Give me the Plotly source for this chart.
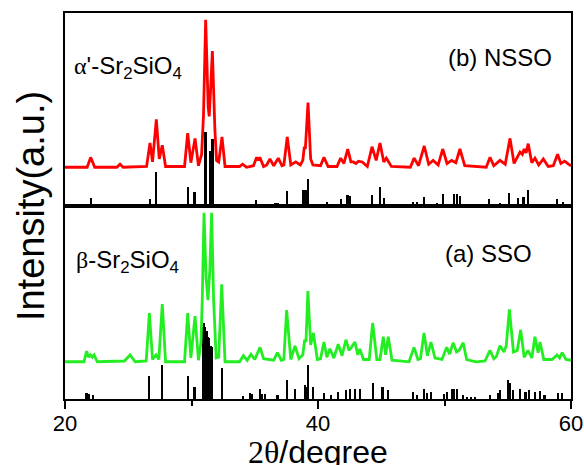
import plotly.graph_objects as go
from plotly.subplots import make_subplots

# ---- measured XRD pattern of NSSO (2theta, intensity a.u.) ----
nsso_pattern = [
    (20.0, 51), (21.75, 51), (22.03, 64), (22.35, 51), (24.1, 51), (24.35, 55), (24.6, 51),
    (26.45, 52), (26.72, 83), (26.92, 58), (27.22, 114), (27.45, 62), (27.69, 80), (27.95, 52),
    (29.45, 52), (29.70, 96), (29.95, 57), (30.28, 89), (30.55, 53), (30.8, 68), (30.95, 120),
    (31.12, 245), (31.32, 130), (31.4, 118), (31.5, 150), (31.65, 204), (31.85, 100), (31.98, 60),
    (32.15, 58), (32.41, 91), (32.65, 52), (33.8, 52), (34.05, 55), (34.35, 51), (34.9, 53),
    (35.15, 64), (35.28, 60), (35.4, 64), (35.7, 52), (35.95, 54), (36.2, 62), (36.5, 53),
    (36.86, 63), (37.15, 53), (37.3, 54), (37.57, 91), (37.85, 54), (38.24, 58), (38.6, 54),
    (38.8, 60), (38.92, 78), (39.0, 75), (39.21, 136), (39.42, 62), (39.6, 54), (40.2, 53),
    (40.47, 64), (40.8, 52), (41.5, 52), (41.79, 63), (42.05, 56), (42.35, 75), (42.6, 58),
    (42.8, 58), (43.0, 56), (43.2, 59), (43.5, 58), (43.9, 52), (44.27, 78), (44.6, 60),
    (44.9, 83), (45.2, 58), (45.4, 63), (45.8, 52), (47.3, 51), (47.6, 63), (47.95, 53),
    (48.4, 79), (48.75, 55), (49.1, 60), (49.5, 54), (49.86, 75), (50.2, 56), (50.57, 60),
    (50.9, 57), (51.22, 75), (51.6, 53), (53.3, 51), (53.6, 64), (53.9, 53), (54.39, 60),
    (54.8, 55), (55.18, 89), (55.5, 56), (55.97, 71), (56.15, 68), (56.3, 75), (56.45, 70),
    (56.62, 82), (56.9, 57), (57.15, 63), (57.45, 54), (57.81, 62), (58.2, 52), (58.6, 53),
    (58.94, 68), (59.2, 56), (59.5, 59), (59.8, 55), (60.0, 53),
]

# ---- measured XRD pattern of SSO ----
sso_pattern = [
    (20.0, 49), (21.5, 49), (21.71, 63), (21.85, 55), (22.0, 58), (22.15, 55), (22.3, 58),
    (22.55, 49), (24.7, 50), (25.14, 58), (25.55, 49), (26.42, 50), (26.67, 113), (26.92, 52),
    (27.2, 58), (27.42, 52), (27.69, 125), (27.95, 49), (29.45, 49), (29.70, 113), (29.95, 54),
    (30.28, 109), (30.55, 51), (30.75, 75), (30.85, 130), (30.99, 245), (31.15, 160), (31.3, 130),
    (31.45, 170), (31.59, 245), (31.75, 130), (31.95, 54), (32.15, 55), (32.39, 151), (32.65, 49),
    (33.8, 49), (34.1, 57), (34.4, 51), (34.7, 59), (35.0, 52), (35.42, 68), (35.7, 53),
    (36.5, 51), (36.79, 61), (37.1, 51), (37.3, 52), (37.52, 117), (37.85, 52), (38.18, 70),
    (38.5, 53), (38.8, 58), (38.95, 78), (39.05, 75), (39.2, 142), (39.42, 71), (39.63, 87),
    (39.95, 52), (40.2, 53), (40.47, 75), (40.7, 55), (40.94, 66), (41.25, 54), (41.6, 72),
    (41.9, 57), (42.21, 78), (42.45, 64), (42.6, 67), (42.92, 75), (43.15, 58), (43.3, 66),
    (43.6, 52), (44.05, 52), (44.32, 100), (44.65, 52), (44.9, 52), (45.16, 82), (45.35, 58),
    (45.55, 82), (45.85, 51), (47.2, 49), (47.59, 68), (47.9, 52), (48.1, 53), (48.38, 87),
    (48.65, 57), (48.93, 75), (49.25, 54), (49.8, 52), (50.17, 68), (50.4, 59), (50.69, 74),
    (50.95, 62), (51.15, 64), (51.48, 74), (51.75, 52), (52.5, 49), (53.2, 50), (53.6, 64),
    (53.9, 53), (54.1, 56), (54.39, 70), (54.7, 62), (54.88, 70), (55.13, 118), (55.45, 62),
    (55.75, 64), (56.02, 91), (56.3, 55), (56.6, 64), (56.9, 54), (57.15, 82), (57.4, 61),
    (57.55, 75), (57.85, 52), (58.5, 52), (58.9, 58), (59.1, 54), (59.3, 61), (59.6, 52),
    (60.0, 51),
]

# ---- standard reference lines (2theta, relative intensity %) ----
alpha_ref_lines = [
    (22.03, 11), (26.72, 9), (27.2, 45), (29.70, 25), (30.24, 18), (31.08, 97), (31.15, 97),
    (31.47, 72), (31.55, 72), (31.65, 88), (31.72, 88), (35.07, 8), (36.6, 4), (36.8, 4),
    (37.52, 20), (38.84, 21), (38.95, 21), (39.1, 21), (39.24, 36), (40.74, 5), (41.79, 9),
    (42.27, 14), (42.4, 14), (42.53, 13), (44.24, 14), (44.9, 25), (45.2, 11), (45.5, 3),
    (47.53, 5), (47.85, 5), (48.4, 12), (48.95, 3), (49.4, 4), (49.86, 16), (50.77, 16),
    (50.96, 16), (51.22, 13), (51.7, 3), (52.7, 3), (53.54, 9), (54.4, 4), (55.13, 17),
    (55.84, 11), (56.2, 12), (56.3, 12), (56.63, 21), (57.9, 3), (58.2, 3), (58.5, 3),
    (58.87, 9), (59.4, 5),
]
beta_ref_lines = [
    (21.7, 8), (21.9, 7), (22.2, 5), (26.67, 30), (27.69, 45), (29.70, 30), (30.24, 16),
    (30.9, 95), (31.0, 100), (31.1, 95), (31.2, 90), (31.3, 82), (31.4, 80), (31.55, 70),
    (31.6, 68), (32.39, 41), (34.05, 4), (34.6, 8), (34.8, 7), (35.42, 13), (35.6, 7),
    (35.8, 7), (36.8, 5), (37.52, 25), (38.18, 13), (38.95, 18), (39.1, 16), (39.23, 45),
    (39.63, 16), (40.5, 8), (41.0, 5), (41.6, 9), (42.2, 12), (42.5, 13), (42.9, 13),
    (43.3, 13), (44.32, 21), (45.1, 16), (45.55, 12), (47.5, 9), (47.8, 5), (48.35, 13),
    (48.6, 8), (48.9, 9), (49.95, 7), (50.17, 9), (50.6, 13), (50.75, 13), (51.0, 13),
    (51.45, 5), (51.8, 3), (52.1, 3), (52.4, 3), (53.6, 5), (54.2, 8), (54.39, 12),
    (55.05, 25), (55.15, 21), (55.4, 12), (56.0, 13), (56.4, 9), (56.66, 12), (57.15, 9),
    (57.55, 11), (57.9, 5), (59.0, 8), (59.3, 8),
]

x_ticks = [20, 40, 60]
x_minor_ticks = [30, 50]

FONT = "Liberation Sans"
GREEK = "Liberation Serif"

fig = make_subplots(rows=2, cols=1, shared_xaxes=True, vertical_spacing=0)


def unzip(pairs):
    return [p[0] for p in pairs], [p[1] for p in pairs]


# upper panel: NSSO
x, y = unzip(alpha_ref_lines)
fig.add_trace(go.Bar(x=x, y=y, width=0.17, marker=dict(color="black", line_width=0)), row=1, col=1)
x, y = unzip(nsso_pattern)
fig.add_trace(go.Scatter(x=x, y=y, mode="lines", line=dict(color="#ff0000", width=2.8)), row=1, col=1)

# lower panel: SSO
x, y = unzip(beta_ref_lines)
fig.add_trace(go.Bar(x=x, y=y, width=0.17, marker=dict(color="black", line_width=0)), row=2, col=1)
x, y = unzip(sso_pattern)
fig.add_trace(go.Scatter(x=x, y=y, mode="lines", line=dict(color="#22ee22", width=2.8)), row=2, col=1)

axis_common = dict(showline=True, mirror=True, linecolor="black", linewidth=1.6,
                   showgrid=False, zeroline=False, automargin=False)

fig.update_xaxes(range=[20, 60], **axis_common)
fig.update_xaxes(ticks="", showticklabels=False, row=1, col=1)
fig.update_xaxes(ticks="outside", tickvals=x_ticks, ticklen=8, tickwidth=1.6, tickcolor="black",
                 ticklabelstandoff=-4,
                 tickfont=dict(family=FONT, size=22, color="black"),
                 minor=dict(tickvals=x_minor_ticks, ticks="outside", ticklen=5,
                            tickwidth=1.6, tickcolor="black"),
                 row=2, col=1)
fig.update_yaxes(range=[0, 254], ticks="", showticklabels=False, **axis_common)

text_font = dict(family=FONT, size=24, color="black")
annotations = [
    dict(text=f"<span style='font-family:{GREEK}'>α</span>'-Sr<sub>2</sub>SiO<sub>4</sub>",
         x=0.014, y=0.86, xanchor="left", yanchor="middle"),
    dict(text="(b) NSSO", x=0.966, y=0.884, xanchor="right", yanchor="middle"),
    dict(text=f"<span style='font-family:{GREEK}'>β</span>-Sr<sub>2</sub>SiO<sub>4</sub>",
         x=0.018, y=0.355, xanchor="left", yanchor="middle"),
    dict(text="(a) SSO", x=0.927, y=0.378, xanchor="right", yanchor="middle"),
]
for a in annotations:
    fig.add_annotation(xref="paper", yref="paper", showarrow=False, font=text_font, **a)

fig.add_annotation(xref="paper", yref="paper", x=-0.067, y=0.5, textangle=-90, showarrow=False,
                   text="Intensity(a.u.)", font=dict(family=FONT, size=38, color="black"),
                   xanchor="center", yanchor="middle")
fig.add_annotation(xref="paper", yref="paper", x=0.5, y=-0.137, showarrow=False,
                   text=f"<span style='font-family:{GREEK}'>2θ</span>/degree",
                   font=dict(family=FONT, size=32, color="black"),
                   xanchor="center", yanchor="middle")

fig.update_layout(
    width=584, height=465,
    margin=dict(l=65, r=13, t=13, b=66),
    paper_bgcolor="white", plot_bgcolor="white",
    showlegend=False, barmode="overlay", bargap=0,
)

fig.write_html("out.html")
